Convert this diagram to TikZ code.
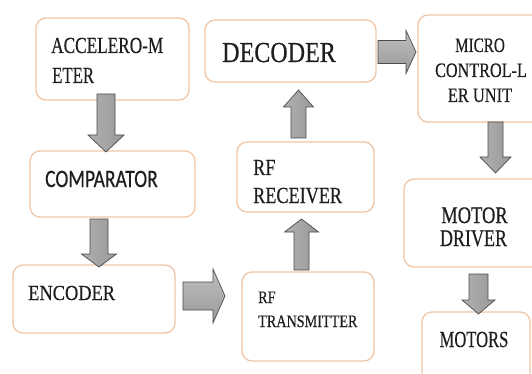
\documentclass[tikz,border=0pt]{standalone}
\usepackage{graphicx}
\usepackage{fontspec}
\setmainfont{Liberation Serif}[FakeBold=0.4]
\newfontfamily\calib{Carlito}[FakeBold=0.6]
\usetikzlibrary{calc}
\definecolor{boxedge}{HTML}{F2C6A4}
\definecolor{txt}{HTML}{1E1E1E}
\newcommand\sx[3]{\scalebox{#1}[1]{\fontsize{#2}{#2}\selectfont #3}}
% box node from corner coordinates (pixels, y downwards)
\newcommand\boxnode[5]{\node[blk, minimum width={#4-#2}, minimum height={#5-#3}] (#1) at ({(#2+#4)/2},{(#3+#5)/2}) {};}
% vertical block arrow: style, x centre, y start, y tip, shaft half width, head half width, y where head starts
\newcommand\varrow[7]{\path[#1] ({#2-#5},#3) -- ({#2-#5},#7) -- ({#2-#6},#7) -- (#2,#4) -- ({#2+#6},#7) -- ({#2+#5},#7) -- ({#2+#5},#3) -- cycle;}
% horizontal block arrow: style, y centre, x start, x tip, shaft half width, head half width, x where head starts
\newcommand\harrow[7]{\path[#1] (#3,{#2-#5}) -- (#7,{#2-#5}) -- (#7,{#2-#6}) -- (#4,#2) -- (#7,{#2+#6}) -- (#7,{#2+#5}) -- (#3,{#2+#5}) -- cycle;}
\tikzset{
  blk/.style={draw=boxedge, line width=1.3pt, rounded corners=10pt, fill=white, inner sep=0pt},
  lbl/.style={inner sep=0pt, text=txt},
  varr/.style={draw=gray!60!black, line width=0.7pt, left color=gray!62, middle color=gray!22, right color=gray!80},
  harr/.style={draw=gray!60!black, line width=0.7pt, top color=gray!50, middle color=gray!20, bottom color=gray!80}
}
\begin{document}
\begin{tikzpicture}[x=1pt,y=-1pt]
\useasboundingbox (0,0) rectangle (532,374);
\clip (0,0) rectangle (532,374);
\fill[white] (0,0) rectangle (532,374);

% boxes
\boxnode{acc}{36}{18}{189}{100}
\boxnode{dec}{205}{20}{376}{82}
\boxnode{mcu}{418}{15}{548}{122}
\boxnode{comp}{30}{151}{195}{217}
\boxnode{rfr}{237}{142}{374}{212}
\boxnode{md}{404}{179}{548}{267}
\boxnode{enc}{13}{265}{175}{333}
\boxnode{rft}{242}{272}{374}{361}
\boxnode{mot}{422}{312}{530}{390}

% texts
\node[lbl, anchor=base west] (accT1) at (51,53) {\sx{0.75}{23}{ACCELERO-M}};
\node[lbl, anchor=base west] (accT2) at (52,83) {\sx{0.73}{23}{ETER}};
\node[lbl, anchor=base west] (decT) at (222,62) {\sx{0.83}{29}{DECODER}};
\node[lbl, anchor=base] (mcuT1) at (480,52) {\sx{0.74}{20.5}{MICRO}};
\node[lbl, anchor=base] (mcuT2) at (481,77) {\sx{0.79}{20.5}{CONTROL-L}};
\node[lbl, anchor=base] (mcuT3) at (480,102) {\sx{0.8}{20.5}{ER UNIT}};
\node[lbl, anchor=base west] (compT) at (45,187) {\sx{0.78}{25}{\calib COMPARATOR}};
\node[lbl, anchor=base west] (rfrT1) at (253,175) {\sx{0.79}{23}{RF}};
\node[lbl, anchor=base west] (rfrT2) at (253,203) {\sx{0.79}{23}{RECEIVER}};
\node[lbl, anchor=base west] (encT) at (28,300) {\sx{0.86}{21.4}{ENCODER}};
\node[lbl, anchor=base west] (rftT1) at (258,303) {\sx{0.81}{17.5}{RF}};
\node[lbl, anchor=base west] (rftT2) at (258,327) {\sx{0.81}{17.5}{TRANSMITTER}};
\node[lbl, anchor=base] (mdT1) at (474.5,223) {\sx{0.78}{23.7}{MOTOR}};
\node[lbl, anchor=base] (mdT2) at (473.5,246) {\sx{0.76}{23.7}{DRIVER}};
\node[lbl, anchor=base] (motT) at (474,347) {\sx{0.72}{23}{MOTORS}};

% block arrows
\varrow{varr}{106}{94}{152}{9}{18}{135}      % accelerometer -> comparator
\varrow{varr}{99}{219}{267}{9}{17.5}{254}    % comparator -> encoder
\harrow{harr}{296}{183}{225}{14}{27}{213}    % encoder -> rf transmitter
\varrow{varr}{301.5}{270}{219}{7.5}{17}{232} % rf transmitter -> rf receiver
\varrow{varr}{298.5}{138}{90}{7.5}{15}{107}  % rf receiver -> decoder
\harrow{harr}{52}{378}{416}{11.5}{21.5}{406} % decoder -> micro controller
\varrow{varr}{495.5}{122}{173}{7.5}{15.5}{157} % micro controller -> motor driver
\varrow{varr}{478.5}{274}{314}{9.5}{16.5}{300} % motor driver -> motors
\end{tikzpicture}
\end{document}
